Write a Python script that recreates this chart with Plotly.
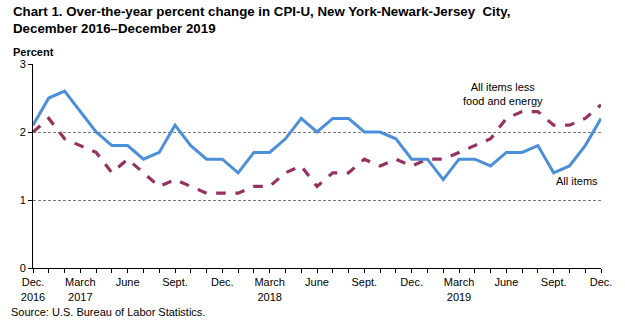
import plotly.graph_objects as go

months = list(range(37))  # Dec 2016 .. Dec 2019, monthly
all_items = [2.1, 2.5, 2.6, 2.3, 2.0, 1.8, 1.8, 1.6, 1.7, 2.1, 1.8, 1.6, 1.6,
             1.4, 1.7, 1.7, 1.9, 2.2, 2.0, 2.2, 2.2, 2.0, 2.0, 1.9, 1.6,
             1.6, 1.3, 1.6, 1.6, 1.5, 1.7, 1.7, 1.8, 1.4, 1.5, 1.8, 2.2]
core = [2.0, 2.2, 1.9, 1.8, 1.7, 1.4, 1.6, 1.4, 1.2, 1.3, 1.2, 1.1, 1.1,
        1.1, 1.2, 1.2, 1.4, 1.5, 1.2, 1.4, 1.4, 1.6, 1.5, 1.6, 1.5,
        1.6, 1.6, 1.7, 1.8, 1.9, 2.2, 2.3, 2.3, 2.1, 2.1, 2.2, 2.4]
tick_pos = [0, 3, 6, 9, 12, 15, 18, 21, 24, 27, 30, 33, 36]
tick_text = ["Dec.<br>2016", "March<br>2017", "June", "Sept.", "Dec.",
             "March<br>2018", "June", "Sept.", "Dec.", "March<br>2019",
             "June", "Sept.", "Dec."]

FONT = "Liberation Sans, Arial, sans-serif"

fig = go.Figure()
fig.add_trace(go.Scatter(x=months, y=core, mode="lines",
                         line=dict(color="#953262", width=3.2, dash="dash"),
                         name="All items less food and energy"))
fig.add_trace(go.Scatter(x=months, y=all_items, mode="lines",
                         line=dict(color="#4A8FD8", width=3),
                         name="All items"))

fig.update_layout(
    width=625, height=321,
    margin=dict(l=33, r=24, t=64, b=53),
    paper_bgcolor="white", plot_bgcolor="white",
    showlegend=False,
    font=dict(family=FONT, size=11, color="black"),
    xaxis=dict(range=[0, 36], tickmode="array", tickvals=tick_pos,
               ticktext=tick_text, showgrid=False, zeroline=False,
               showline=True, linecolor="black", linewidth=1,
               ticks="outside", ticklen=4, tickcolor="black",
               minor=dict(tickmode="array", tickvals=months, ticks="outside",
                          ticklen=4, tickcolor="black"),
               tickfont=dict(size=11)),
    yaxis=dict(range=[0, 3], tickvals=[0, 1, 2, 3], showgrid=True,
               gridcolor="#7a7a7a", griddash="3px,2px", gridwidth=1,
               zeroline=False, showline=True, linecolor="black",
               linewidth=1, ticks="outside", ticklen=4, tickcolor="black",
               tickfont=dict(size=11)),
)

fig.add_annotation(xref="paper", yref="paper", x=0, y=1, xshift=-22, yshift=62,
                   xanchor="left", yanchor="top", align="left", showarrow=False,
                   text="<b>Chart 1. Over-the-year percent change in CPI-U, New York-Newark-Jersey  City,<br>December 2016\u2013December 2019</b>",
                   font=dict(size=13.3, family=FONT))
fig.add_annotation(xref="paper", yref="paper", x=0, y=1, xshift=-22, yshift=20,
                   xanchor="left", yanchor="top", showarrow=False,
                   text="<b>Percent</b>", font=dict(size=11, family=FONT))
fig.add_annotation(xref="x", yref="y", x=29.8, y=2.56, xanchor="center",
                   yanchor="middle", showarrow=False,
                   text="All items less<br>food and energy", font=dict(size=11))
fig.add_annotation(xref="x", yref="y", x=34.5, y=1.28, xanchor="center",
                   yanchor="middle", showarrow=False,
                   text="All items", font=dict(size=11))
fig.add_annotation(xref="paper", yref="paper", x=0, y=0, xshift=-24, yshift=-36,
                   xanchor="left", yanchor="top", showarrow=False,
                   text="Source: U.S. Bureau of Labor Statistics.",
                   font=dict(size=11, family=FONT))

fig.write_html("out.html")
